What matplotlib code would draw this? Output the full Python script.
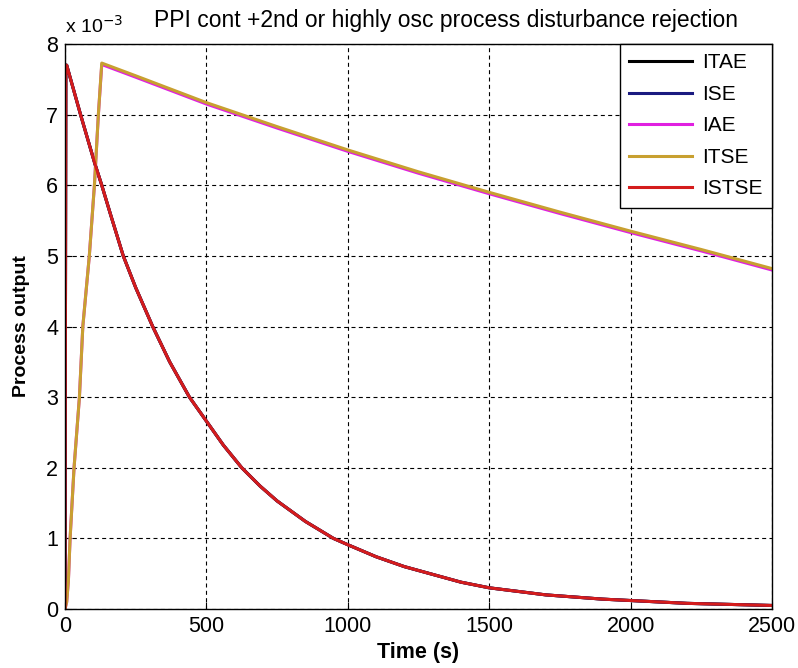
import matplotlib.pyplot as plt
import numpy as np

plt.rcParams['font.family'] = ['Liberation Sans', 'DejaVu Sans']

# fast responding controllers (ITAE, ISE, ISTSE lie on top of each other), x 10^-3
t_fast = [0, 3, 6, 55, 106, 130, 160, 206, 250, 310, 370, 440, 500, 560, 625,
          690, 750, 850, 949, 1000, 1100, 1200, 1300, 1400, 1500, 1600, 1700,
          1800, 1900, 2000, 2100, 2200, 2300, 2400, 2500]
y_fast_e3 = [0, 7.7, 7.7, 7.0, 6.3, 6.0, 5.6, 5.0, 4.55, 4.0, 3.5, 3.0, 2.66,
             2.32, 2.0, 1.74, 1.53, 1.24, 1.0, 0.91, 0.74, 0.60, 0.49, 0.38,
             0.30, 0.25, 0.20, 0.17, 0.14, 0.12, 0.10, 0.08, 0.07, 0.06, 0.05]

# slow responding controllers (IAE, ITSE lie on top of each other), x 10^-3
t_slow = [0, 6, 12, 18, 32, 51, 63, 86, 104, 118, 130, 250, 500, 750, 1000,
          1250, 1500, 1750, 2000, 2250, 2500]
y_itse_e3 = [0, 0.1, 0.4, 1, 2, 3, 4, 5, 6, 7, 7.73, 7.55, 7.17, 6.83, 6.50,
             6.19, 5.90, 5.62, 5.35, 5.09, 4.82]
y_iae_e3 = [0, 0.1, 0.4, 1, 2, 3, 4, 5, 6, 7, 7.71, 7.53, 7.15, 6.81, 6.48,
            6.17, 5.88, 5.60, 5.33, 5.07, 4.80]

labels = ['ITAE', 'ISE', 'IAE', 'ITSE', 'ISTSE']
colors = ['#000000', '#1a1a80', '#e020e0', '#c8a030', '#d41c1c']

fig = plt.figure(figsize=(7.98, 6.68), dpi=100)
ax = fig.add_axes([65 / 798, 1 - 609 / 668, 707 / 798, 565 / 668])

lw = 2.2
ax.plot(t_fast, y_fast_e3, color=colors[0], lw=lw, label=labels[0])
ax.plot(t_fast, y_fast_e3, color=colors[1], lw=lw, label=labels[1])
ax.plot(t_slow, y_iae_e3, color=colors[2], lw=lw, label=labels[2])
ax.plot(t_slow, y_itse_e3, color=colors[3], lw=lw, label=labels[3])
ax.plot(t_fast, y_fast_e3, color=colors[4], lw=lw, label=labels[4])

ax.set_xlim(0, 2500)
ax.set_ylim(0, 8)
ax.set_xticks([0, 500, 1000, 1500, 2000, 2500])
ax.set_yticks(range(9))
ax.grid(True, color='black', linestyle=(0, (3.6, 3)), linewidth=0.8)
ax.tick_params(direction='in', labelsize=15.5, length=5, pad=5)
for s in ax.spines.values():
    s.set_linewidth(1.0)

ax.set_xlabel('Time (s)', fontsize=15.5, fontweight='bold')
ax.set_ylabel('Process output', fontsize=14, fontweight='bold')
ax.xaxis.set_label_coords(0.5, -0.058)
ax.yaxis.set_label_coords(-0.049, 0.5)

leg = ax.legend(loc='upper right', fontsize=15, fancybox=False, framealpha=1,
                edgecolor='black', handlelength=3.0, borderaxespad=0,
                labelspacing=0.6, handletextpad=0.5, borderpad=0.45)
leg.get_frame().set_linewidth(1.0)

fig.text(65 / 798, 1 - 26 / 668, r'x 10$^{-3}$', fontsize=14, ha='left', va='center')
fig.text(446 / 798, 1 - 20 / 668, 'PPI cont +2nd or highly osc process disturbance rejection',
         fontsize=16.5, ha='center', va='center')

fig.savefig('out.png', dpi=100)
